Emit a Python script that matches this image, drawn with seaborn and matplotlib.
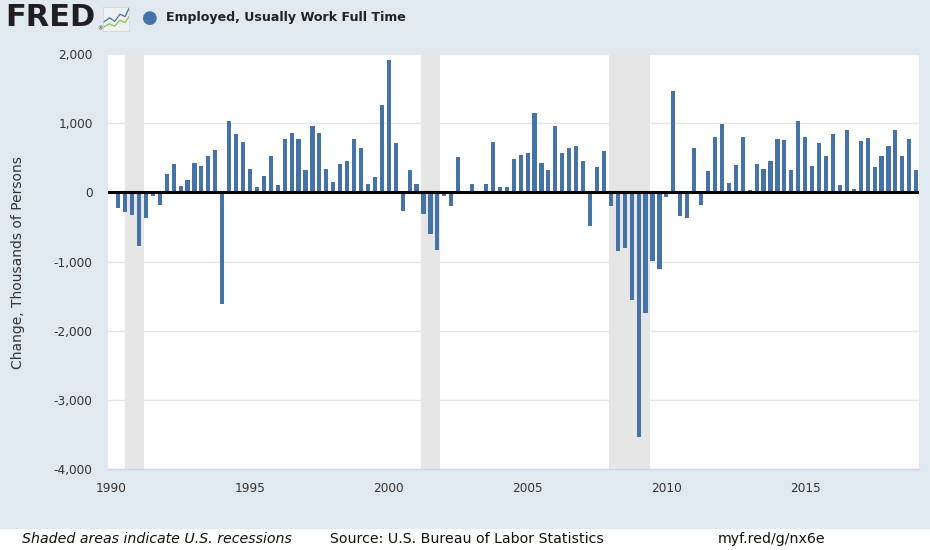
import numpy as np
import pandas as pd
import matplotlib
matplotlib.use('Agg')
import matplotlib.pyplot as plt
import seaborn as sns
from matplotlib.patches import Rectangle

# Quarterly change in full-time employed, thousands of persons (1990Q2 - 2019Q1)
first_quarter = '1990Q2'
last_quarter = '2019Q1'
change = [
    -226, -279, -332, -779, -365, -58, -178, 269, 409, 87,
    173, 428, 380, 529, 615, -1611, 1038, 841, 731, 337,
    82, 240, 519, 101, 774, 851, 774, 322, 962, 851,
    341, 154, 409, 447, 774, 639, 125, 226, 1264, 1913,
    712, -274, 317, 120, -312, -596, -827, -58, -192, 514,
    8, 120, 10, 120, 731, 82, 82, 481, 543, 572,
    1144, 428, 317, 962, 572, 639, 663, 447, -481, 361,
    596, -192, -841, -808, -1563, -3538, -1750, -995, -1111, -67,
    1471, -346, -370, 644, -178, 308, 803, 990, 135, 389,
    803, 38, 409, 341, 447, 774, 755, 322, 1038, 803,
    380, 712, 529, 841, 106, 894, 53, 736, 784, 361,
    529, 668, 904, 519, 774, 322,
]

# NBER recessions (peak month, trough month)
recession_start = ['1990-07', '2001-03', '2007-12']
recession_end = ['1991-03', '2001-11', '2009-06']

year_ticks = [1990, 1995, 2000, 2005, 2010, 2015]
y_ticks = [-4000, -3000, -2000, -1000, 0, 1000, 2000]

series_name = 'Employed, Usually Work Full Time'
y_label = 'Change, Thousands of Persons'


def decimal_year(month_str):
    p = pd.Period(month_str, freq='M')
    return p.year + (p.month - 1) / 12


quarters = pd.period_range(first_quarter, last_quarter, freq='Q')
df = pd.DataFrame({
    'date': quarters.year + (quarters.quarter - 1) / 4,
    'change': change,
})

BG = '#e1e9f0'
BAR = '#4572a7'
TXT = '#333333'

sns.set_style('white')
plt.rcParams['font.family'] = ['DejaVu Sans']

fig = plt.figure(figsize=(9.3, 5.5), dpi=100)
fig.patch.set_facecolor(BG)
# white footer band
fig.patches.append(Rectangle((0, 0), 1, 21 / 550, transform=fig.transFigure,
                             facecolor='white', edgecolor='none', zorder=0))

ax = fig.add_axes([108 / 930, 1 - 469 / 550, 811 / 930, 415 / 550])
ax.set_facecolor('white')

for s, e in zip(recession_start, recession_end):
    ax.axvspan(decimal_year(s), decimal_year(e), color='#e6e6e6', lw=0, zorder=0)

for v in y_ticks:
    ax.axhline(v, color='#e6e6e6', lw=1, zorder=0.5)

sns.barplot(data=df, x='date', y='change', native_scale=True, width=0.6,
            color=BAR, saturation=1, errorbar=None, linewidth=0, ax=ax, zorder=2)

ax.axhline(0, color='black', lw=2.2, zorder=3)

ax.set_xlim(1989.885, 2019.10)
ax.set_ylim(-4000, 2000)
ax.set_xticks(year_ticks)
ax.set_xticklabels([str(y) for y in year_ticks])
ax.set_yticks(y_ticks)
ax.set_yticklabels([f'{v:,}' for v in y_ticks])
ax.set_xlabel('')
ax.set_ylabel('')

for side in ['top', 'right', 'left']:
    ax.spines[side].set_visible(False)
ax.spines['bottom'].set_color('#ccd6eb')
ax.spines['bottom'].set_linewidth(1)
ax.tick_params(axis='x', colors='#ccd6eb', length=6.5, width=1, direction='out',
               labelcolor=TXT, labelsize=8.7, pad=3)
ax.tick_params(axis='y', length=0, labelcolor=TXT, labelsize=8.7, pad=11)
ax.grid(False)

fig.text(18 / 930, 1 - 263 / 550, y_label, rotation=90, ha='center', va='center',
         fontsize=10, color=TXT)

# header: FRED logo and legend entry
fig.text(5 / 930, 1 - 18 / 550, 'FRED', ha='left', va='center', fontsize=22,
         fontweight='heavy', color='#231f20')
fig.text(97 / 930, 1 - 29 / 550, '®', ha='left', va='center', fontsize=4, color='#231f20')
icon = fig.add_axes([103 / 930, 1 - 31 / 550, 26 / 930, 24 / 550])
icon.set_facecolor('#eef0f2')
icon.plot([0, 0.25, 0.45, 0.65, 0.85, 1], [0.35, 0.55, 0.4, 0.7, 0.6, 0.95], color='#4572a7', lw=0.9)
icon.plot([0, 0.25, 0.45, 0.65, 0.85, 1], [0.15, 0.3, 0.2, 0.45, 0.35, 0.6], color='#8dc63f', lw=0.9)
icon.set_xlim(0, 1)
icon.set_ylim(0, 1)
icon.set_xticks([])
icon.set_yticks([])
for sp in icon.spines.values():
    sp.set_color('#d0d4d8')
    sp.set_linewidth(0.5)

fig.text(150 / 930, 1 - 18 / 550, '●', ha='center', va='center', fontsize=13, color=BAR)
fig.text(166 / 930, 1 - 18 / 550, series_name, ha='left', va='center', fontsize=9.1,
         fontweight='bold', color='#222222')

# footer
fig.text(22 / 930, 1 - 539 / 550, 'Shaded areas indicate U.S. recessions', ha='left',
         va='center', fontsize=10.2, style='italic', color='#111111')
fig.text(330 / 930, 1 - 539 / 550, 'Source: U.S. Bureau of Labor Statistics', ha='left',
         va='center', fontsize=10.2, color='#111111')
fig.text(718 / 930, 1 - 539 / 550, 'myf.red/g/nx6e', ha='left', va='center',
         fontsize=10.2, color='#111111')

fig.savefig('out.png', dpi=100, facecolor=BG)
